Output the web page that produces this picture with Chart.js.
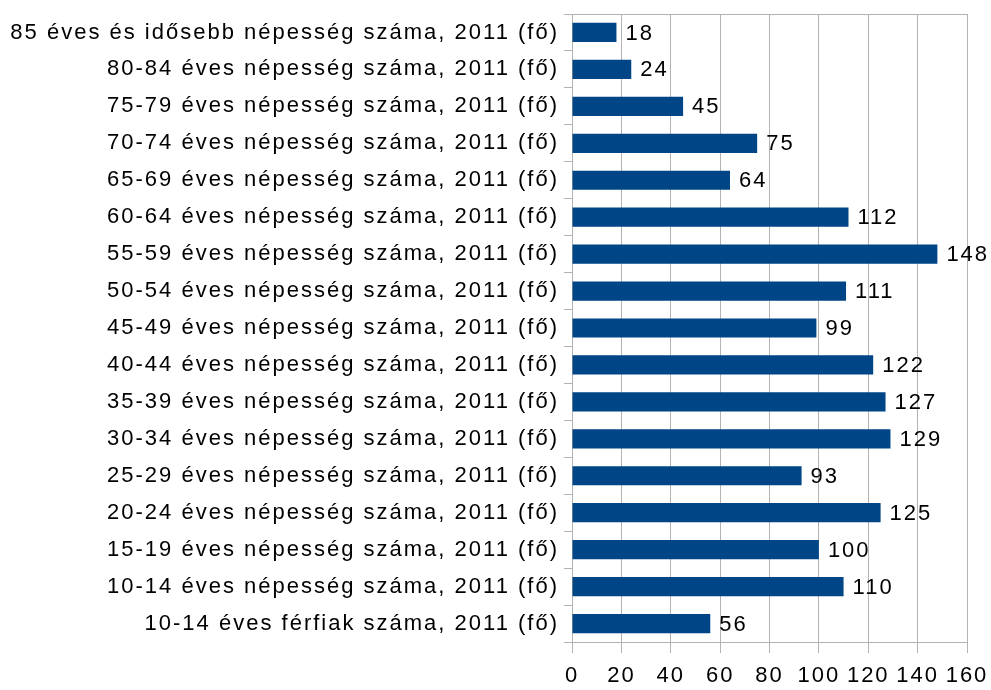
<!DOCTYPE html>
<html>
<head>
<meta charset="utf-8">
<script src="https://cdn.jsdelivr.net/npm/chart.js@4"></script>
<style>
  html, body { margin: 0; padding: 0; background: #fff; }
  #wrap { width: 991px; height: 690px; position: relative; }
</style>
</head>
<body>
<div id="wrap"><canvas id="chart"></canvas></div>
<script>
const categories = [
  '85 éves és idősebb népesség száma, 2011 (fő)',
  '80-84 éves népesség száma, 2011 (fő)',
  '75-79 éves népesség száma, 2011 (fő)',
  '70-74 éves népesség száma, 2011 (fő)',
  '65-69 éves népesség száma, 2011 (fő)',
  '60-64 éves népesség száma, 2011 (fő)',
  '55-59 éves népesség száma, 2011 (fő)',
  '50-54 éves népesség száma, 2011 (fő)',
  '45-49 éves népesség száma, 2011 (fő)',
  '40-44 éves népesség száma, 2011 (fő)',
  '35-39 éves népesség száma, 2011 (fő)',
  '30-34 éves népesség száma, 2011 (fő)',
  '25-29 éves népesség száma, 2011 (fő)',
  '20-24 éves népesség száma, 2011 (fő)',
  '15-19 éves népesség száma, 2011 (fő)',
  '10-14 éves népesség száma, 2011 (fő)',
  '10-14 éves férfiak száma, 2011 (fő)'
];
const values = [18, 24, 45, 75, 64, 112, 148, 111, 99, 122, 127, 129, 93, 125, 100, 110, 56];
const xTicks = [0, 20, 40, 60, 80, 100, 120, 140, 160];

const gridColor = '#b3b3b3';
const fontSpec = { family: '"Liberation Sans", Arial, sans-serif', size: 22 };

// wider letter spacing like the original export (canvas resets it on resize)
const spacing = {
  id: 'spacing',
  beforeUpdate(chart) { chart.ctx.letterSpacing = '2px'; },
  beforeDraw(chart) { chart.ctx.letterSpacing = '2px'; }
};

// value labels next to bars + top border of plot
const valueLabels = {
  id: 'valueLabels',
  afterDatasetsDraw(chart) {
    const ctx = chart.ctx;
    const area = chart.chartArea;
    ctx.save();
    ctx.strokeStyle = gridColor;
    ctx.lineWidth = 1;
    ctx.beginPath();
    ctx.moveTo(area.left, area.top + 0.5);
    ctx.lineTo(area.right, area.top + 0.5);
    ctx.stroke();
    ctx.fillStyle = '#000';
    ctx.font = fontSpec.size + 'px ' + fontSpec.family;
    ctx.textBaseline = 'middle';
    ctx.textAlign = 'left';
    chart.getDatasetMeta(0).data.forEach((bar, i) => {
      ctx.fillText(String(values[i]), bar.x + 9, bar.y + 1);
    });
    ctx.restore();
  }
};

new Chart(document.getElementById('chart'), {
  type: 'bar',
  data: {
    labels: categories,
    datasets: [{
      data: values,
      backgroundColor: '#004586',
      borderWidth: 0,
      barPercentage: 0.52,
      categoryPercentage: 1
    }]
  },
  options: {
    indexAxis: 'y',
    responsive: true,
    maintainAspectRatio: false,
    animation: false,
    layout: { padding: { top: 14, right: 24, left: 0, bottom: 0 } },
    plugins: {
      legend: { display: false },
      tooltip: { enabled: false }
    },
    scales: {
      x: {
        min: 0,
        max: 160,
        afterBuildTicks: (scale) => { scale.ticks = xTicks.map(v => ({ value: v })); },
        afterFit: (scale) => {
          scale.height = 48;
          scale.paddingLeft = 0;
          scale.paddingRight = 0;
        },
        grid: { color: gridColor, tickLength: 11 },
        border: { color: gridColor },
        ticks: { color: '#000', font: fontSpec, padding: 10, maxRotation: 0 }
      },
      y: {
        afterFit: (scale) => {
          scale.width = 572;
          scale.paddingTop = 0;
          scale.paddingBottom = 0;
        },
        grid: { color: gridColor, offset: true, drawOnChartArea: false, tickLength: 8 },
        border: { color: gridColor },
        ticks: { color: '#000', font: fontSpec, padding: 5, autoSkip: false }
      }
    }
  },
  plugins: [spacing, valueLabels]
});
</script>
</body>
</html>
